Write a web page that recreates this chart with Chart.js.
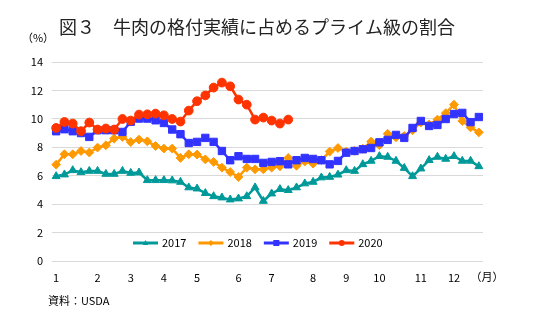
<!DOCTYPE html>
<html><head><meta charset="utf-8">
<script src="https://cdn.jsdelivr.net/npm/chart.js@4/dist/chart.umd.min.js"></script>
<style>html,body{margin:0;padding:0;background:#fff;}#wrap{width:534px;height:325px;position:relative;}</style>
</head><body><div id="wrap"><canvas id="c" width="534" height="325"></canvas></div>
<script>
const weeks = ['1','','','','','2','','','','3','','','','4','','','','5','','','','','6','','','','7','','','','','8','','','','9','','','','10','','','','','11','','','','12','','',''];
const y2017 = [5.96,6.08,6.38,6.24,6.33,6.33,6.12,6.12,6.33,6.19,6.22,5.68,5.68,5.68,5.66,5.56,5.17,5.09,4.77,4.55,4.46,4.32,4.39,4.55,5.17,4.22,4.74,5.05,4.98,5.17,5.45,5.56,5.87,5.91,6.07,6.38,6.33,6.8,7.04,7.37,7.32,7.04,6.54,5.96,6.5,7.09,7.32,7.18,7.37,7.04,7.04,6.66];
const y2018 = [6.78,7.51,7.51,7.74,7.63,7.98,8.14,8.61,8.73,8.37,8.54,8.42,8.09,7.91,7.91,7.25,7.51,7.49,7.15,6.97,6.57,6.26,5.91,6.57,6.45,6.45,6.57,6.66,7.25,6.7,7.0,6.85,7.1,7.7,7.95,7.7,7.75,7.9,8.4,8.15,8.95,8.7,8.8,9.2,9.75,9.6,9.95,10.4,11.0,9.85,9.4,9.05];
const y2019 = [9.13,9.27,9.13,9.0,8.73,9.2,9.2,9.2,9.08,9.8,10.02,10.02,9.9,9.71,9.25,8.92,8.3,8.38,8.66,8.38,7.74,7.09,7.37,7.18,7.18,6.9,6.97,7.02,6.8,7.09,7.25,7.18,7.09,6.8,7.04,7.62,7.74,7.86,7.95,8.35,8.52,8.87,8.66,9.36,9.85,9.5,9.57,9.99,10.34,10.42,9.77,10.13];
const y2020 = [9.36,9.78,9.67,9.13,9.74,9.25,9.32,9.25,9.99,9.88,10.3,10.32,10.37,10.25,9.99,9.81,10.58,11.24,11.65,12.2,12.55,12.29,11.36,11.0,9.95,10.09,9.88,9.67,9.95];
const seriesNames = ['2017','2018','2019','2020'];
const yTicks = [0,2,4,6,8,10,12,14];

const FONT = '"Noto Sans CJK JP", "Noto Sans", sans-serif';
const colors = ['#009999','#FF9900','#3333FF','#FF3300'];
const styles = ['triangle','rectRot','rect','circle'];
const radii = [4.6,4.4,5.2,4.4];
const series = [y2017,y2018,y2019,y2020];

const datasets = series.map((d,i)=>({
  label: seriesNames[i], data: d,
  borderColor: colors[i], backgroundColor: colors[i],
  pointBackgroundColor: colors[i], pointBorderColor: colors[i],
  pointStyle: styles[i], pointRadius: radii[i], pointBorderWidth: 1,
  borderWidth: 2.5, tension: 0, fill: false,
  order: series.length - i
}));

function drawMarker(ctx, style, x, y, r, color){
  ctx.save(); ctx.fillStyle = color; ctx.beginPath();
  if (style==='triangle'){ ctx.moveTo(x, y-r); ctx.lineTo(x+r*0.9, y+r*0.7); ctx.lineTo(x-r*0.9, y+r*0.7); ctx.closePath(); }
  else if (style==='rectRot'){ ctx.moveTo(x,y-r); ctx.lineTo(x+r,y); ctx.lineTo(x,y+r); ctx.lineTo(x-r,y); ctx.closePath(); }
  else if (style==='rect'){ ctx.rect(x-r,y-r,2*r,2*r); }
  else { ctx.arc(x,y,r,0,Math.PI*2); }
  ctx.fill(); ctx.restore();
}

const textPlugin = {
  id: 'texts',
  afterDraw(chart){
    const ctx = chart.ctx; const ca = chart.chartArea;
    ctx.save();
    ctx.fillStyle = '#222';
    ctx.font = '18px ' + FONT; ctx.textBaseline = 'middle'; ctx.textAlign = 'left';
    ctx.fillText('図３　牛肉の格付実績に占めるプライム級の割合', 59, 27);
    ctx.fillStyle = '#000';
    ctx.font = '11px ' + FONT; ctx.textAlign = 'center';
    ctx.fillText('（%）', 38, 38);
    ctx.fillText('（月）', ca.right + 4, 277);
    ctx.textAlign = 'left';
    ctx.fillText('資料：USDA', 48, 301);
    // legend
    let x = 133; const ly = 243;
    chart.data.datasets.forEach((ds,i)=>{
      ctx.strokeStyle = ds.borderColor; ctx.lineWidth = 3;
      ctx.beginPath(); ctx.moveTo(x, ly); ctx.lineTo(x+25, ly); ctx.stroke();
      drawMarker(ctx, styles[i], x+12.5, ly, 3, ds.borderColor);
      ctx.fillStyle = '#000'; ctx.textAlign='left';
      ctx.fillText(ds.label, x+29, ly);
      x += 29 + ctx.measureText(ds.label).width + 12;
    });
    ctx.restore();
  }
};

new Chart(document.getElementById('c'), {
  type: 'line',
  data: { labels: weeks, datasets },
  options: {
    responsive: false, animation: false, devicePixelRatio: 1,
    layout: { padding: { left: 0, right: 51, top: 62, bottom: 34 } },
    plugins: { legend: { display: false }, tooltip: { enabled: false } },
    scales: {
      x: {
        offset: true,
        grid: { display: false, drawTicks: false },
        border: { display: false },
        ticks: { autoSkip: false, maxRotation: 0, minRotation: 0, padding: 10, color: '#000', font: { family: FONT, size: 11 } },
        afterFit(s){ s.height = 30; }
      },
      y: {
        min: 0, max: 14,
        afterBuildTicks(s){ s.ticks = yTicks.map(v=>({value:v})); },
        grid: { color: '#d9d9d9', lineWidth: 1, drawTicks: false },
        border: { display: false },
        ticks: { padding: 9, color: '#000', font: { family: FONT, size: 11 } },
        afterFit(s){ s.width = 52; }
      }
    }
  },
  plugins: [textPlugin]
});
</script></body></html>
